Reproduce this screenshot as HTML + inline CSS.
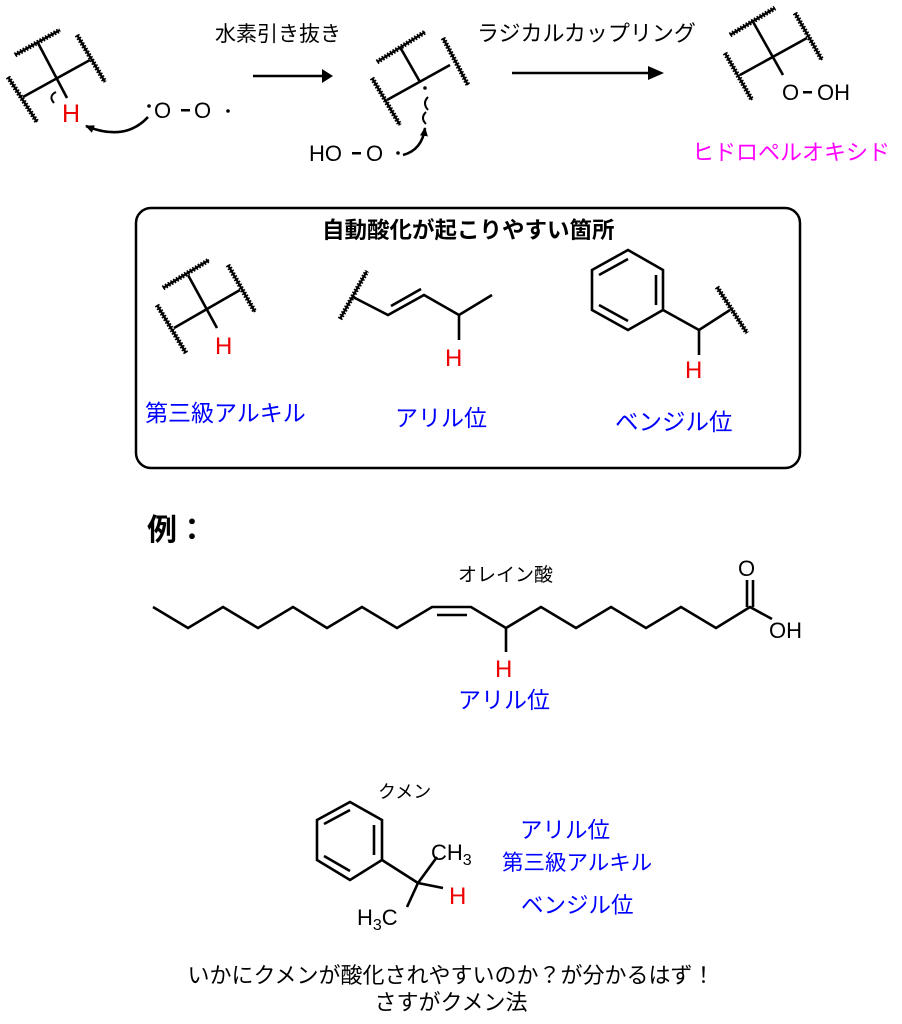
<!DOCTYPE html>
<html><head><meta charset="utf-8"><style>
html,body{margin:0;padding:0;background:#fff;}
svg{display:block;}
text{font-family:"Liberation Sans","Noto Sans CJK JP",sans-serif;}
</style></head><body>
<svg width="902" height="1024" viewBox="0 0 902 1024" xmlns="http://www.w3.org/2000/svg">
<defs>
<marker id="ah" markerWidth="10" markerHeight="10" refX="8" refY="5" orient="auto" markerUnits="userSpaceOnUse">
<path d="M0,1 L9,5 L0,9 Z" fill="#000"/></marker>
</defs>
<g stroke="#000" fill="none" stroke-width="2.6">
<g stroke-width="2.2">
<line x1="15" y1="55" x2="60" y2="30"/><line x1="8" y1="77" x2="37" y2="122"/><line x1="77" y1="35" x2="105" y2="82"/>
<line x1="377" y1="62" x2="425" y2="32"/><line x1="372" y1="78" x2="400" y2="125"/><line x1="443" y1="38" x2="468" y2="85"/>
<line x1="730" y1="35" x2="775" y2="8"/><line x1="725" y1="53" x2="752" y2="100"/><line x1="795" y1="13" x2="822" y2="60"/>
<line x1="163" y1="288" x2="209" y2="260"/><line x1="157" y1="305" x2="186" y2="353"/><line x1="228" y1="265" x2="255" y2="312"/>
<line x1="340" y1="319" x2="367" y2="271"/>
<line x1="717" y1="287" x2="747" y2="333"/>
</g>
<g stroke-width="5" stroke-dasharray="1.6 1.6">
<line x1="15" y1="55" x2="60" y2="30"/><line x1="8" y1="77" x2="37" y2="122"/><line x1="77" y1="35" x2="105" y2="82"/>
<line x1="377" y1="62" x2="425" y2="32"/><line x1="372" y1="78" x2="400" y2="125"/><line x1="443" y1="38" x2="468" y2="85"/>
<line x1="730" y1="35" x2="775" y2="8"/><line x1="725" y1="53" x2="752" y2="100"/><line x1="795" y1="13" x2="822" y2="60"/>
<line x1="163" y1="288" x2="209" y2="260"/><line x1="157" y1="305" x2="186" y2="353"/><line x1="228" y1="265" x2="255" y2="312"/>
<line x1="340" y1="319" x2="367" y2="271"/>
<line x1="717" y1="287" x2="747" y2="333"/>
</g>
<line x1="38" y1="43" x2="67" y2="98"/><line x1="23" y1="97" x2="90" y2="60"/>
<path d="M56,92 Q48,96 54,103" stroke-width="2"/>
<path d="M148,117 Q125,142 86,126" marker-end="url(#ah)"/>
<line x1="253" y1="76" x2="322" y2="76"/>
<path d="M322,69 L333,76 L322,83 Z" fill="#000" stroke="none"/>
<line x1="400" y1="47" x2="420" y2="82"/><line x1="387" y1="100" x2="450" y2="65"/>
<path d="M403,155 Q422,150 425,128" marker-end="url(#ah)"/>
<path d="M428,97 Q422,103 428,110" stroke-width="2"/><path d="M426,112 Q420,118 426,124" stroke-width="2"/>
<line x1="512" y1="73" x2="650" y2="73"/>
<path d="M648,66 L664,73 L648,80 Z" fill="#000" stroke="none"/>
<line x1="752" y1="20" x2="783" y2="75"/><line x1="740" y1="75" x2="807" y2="38"/>
<rect x="136" y="208" width="664" height="260" rx="15" ry="15" stroke-width="2.5"/>
<line x1="188" y1="275" x2="217" y2="328"/><line x1="174" y1="328" x2="240" y2="290"/>
<polyline points="353,297 388,315 424,295 459,315 492,295"/>
<line x1="391" y1="306" x2="421" y2="289" />
<line x1="459" y1="315" x2="459" y2="340"/>
<polygon points="628,250 663,270 663,310 628,330 592,310 592,270"/>
<line x1="656" y1="275" x2="656" y2="305"/><line x1="628" y1="321" x2="599" y2="305"/><line x1="599" y1="275" x2="628" y2="259"/>
<polyline points="663,310 699,330 730,310"/>
<line x1="699" y1="330" x2="699" y2="355"/>
<polyline points="153,607 188,628 223,607 258,628 293,607 327,628 362,607 397,628 432,607 471,607 506,628 541,607 576,628 611,607 646,628 681,607 716,628 750,607 772,619"/>
<line x1="437" y1="615" x2="467" y2="615"/>
<line x1="747" y1="607" x2="747" y2="580"/><line x1="753" y1="607" x2="753" y2="580"/>
<line x1="506" y1="628" x2="506" y2="652"/>
<polygon points="350,802 382,820 382,860 350,880 317,860 317,820"/>
<line x1="374" y1="825" x2="374" y2="855"/><line x1="350" y1="871" x2="324" y2="856"/><line x1="324" y1="824" x2="350" y2="810"/>
<polyline points="382,860 418,883"/>
<line x1="418" y1="883" x2="437" y2="857"/><line x1="418" y1="883" x2="443" y2="888"/><line x1="418" y1="883" x2="407" y2="907"/>
</g>
<g fill="#000" stroke="none">
<circle cx="149" cy="106" r="1.8"/><circle cx="228" cy="111" r="1.8"/><circle cx="425" cy="88" r="1.8"/><circle cx="398" cy="153" r="1.8"/>
</g>
<g font-size="22">
<text x="62" y="122" fill="#e00" font-size="25">H</text>
<text x="154" y="118">O</text><text x="194" y="118">O</text>
<rect x="181" y="109" width="9" height="2.5" fill="#000"/>
<text x="309" y="161">HO</text><text x="366" y="161">O</text>
<rect x="352" y="152" width="9" height="2.5" fill="#000"/>
<text x="782" y="100">O</text><text x="817" y="100">OH</text>
<rect x="803" y="91" width="9" height="2.5" fill="#000"/>
<text x="215" y="354" fill="#e00" font-size="24">H</text>
<text x="445" y="366" fill="#e00" font-size="24">H</text>
<text x="685" y="378" fill="#e00" font-size="24">H</text>
<text x="495" y="677" fill="#e00" font-size="24">H</text>
<text x="738" y="576">O</text><text x="769" y="638">OH</text>
<text x="431" y="860">CH<tspan font-size="16" dy="5">3</tspan></text>
<text x="357" y="925">H<tspan font-size="16" dy="5">3</tspan><tspan dy="-5">C</tspan></text>
<text x="449" y="904" fill="#e00" font-size="24">H</text>
</g>
<g>
<text x="215" y="41" font-size="21">水素引き抜き</text>
<text x="477" y="41" font-size="22">ラジカルカップリング</text>
<text x="692" y="160" fill="#f0f" font-size="22">ヒドロペルオキシド</text>
<text x="322" y="238" font-weight="bold" font-size="22.5">自動酸化が起こりやすい箇所</text>
<text x="145" y="421" fill="#00f" font-size="23">第三級アルキル</text>
<text x="395" y="426" fill="#00f" font-size="23">アリル位</text>
<text x="615" y="430" fill="#00f" font-size="23.5">ベンジル位</text>
<text x="147" y="540" font-size="30" font-weight="bold">例：</text>
<text x="458" y="581" font-size="19">オレイン酸</text>
<text x="458" y="708" fill="#00f" font-size="23">アリル位</text>
<text x="378" y="798" font-size="18">クメン</text>
<text x="520" y="838" fill="#00f" font-size="22.5">アリル位</text>
<text x="502" y="870" fill="#00f" font-size="21.5">第三級アルキル</text>
<text x="521" y="913" fill="#00f" font-size="22.5">ベンジル位</text>
<text x="451" y="983" text-anchor="middle" font-size="22">いかにクメンが酸化されやすいのか？が分かるはず！</text>
<text x="451" y="1010" text-anchor="middle" font-size="22">さすがクメン法</text>
</g>
</svg>
</body></html>
